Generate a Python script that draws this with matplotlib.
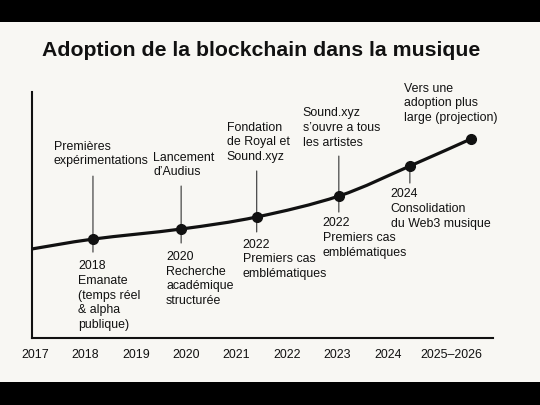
import matplotlib
matplotlib.use("Agg")
import matplotlib.pyplot as plt
from matplotlib.path import Path
from matplotlib.patches import PathPatch, Rectangle
import numpy as np

plt.rcParams['font.family'] = ['Liberation Sans', 'DejaVu Sans']

# ---- data ----
tick_labels = ["2017", "2018", "2019", "2020", "2021", "2022", "2023", "2024", "2025–2026"]
tick_pos = [0, 1, 2, 3, 4, 5, 6, 7, 8.27]

# adoption curve (arbitrary index 0-100), first value is the start at the axis
curve_x = [-0.06, 1.15, 2.90, 4.40, 6.03, 7.44, 8.65]
curve_y = [36.2, 40.2, 44.3, 49.2, 57.7, 69.9, 80.9]
milestone_idx = [1, 2, 3, 4, 5, 6]

labels_above = [
    "Premières\nexpérimentations",
    "Lancement\nd\u2019Audius",
    "Fondation\nde Royal et\nSound.xyz",
    "Sound.xyz\ns\u2019ouvre a tous\nles artistes",
    None,
    "Vers une\nadoption plus\nlarge (projection)",
]
labels_below = [
    "2018\nEmanate\n(temps réel\n& alpha\npublique)",
    "2020\nRecherche\nacadémique\nstructurée",
    "2022\nPremiers cas\nemblématiques",
    "2022\nPremiers cas\nemblématiques",
    "2024\nConsolidation\ndu Web3 musique",
    None,
]
title = "Adoption de la blockchain dans la musique"

# ---- layout (pixel offsets) ----
above_off = [(-39, 85), (-28, 64), (-30, 74.5), (-36, 68), None, (-67, 35.5)]
below_off = [(-15, -56.5), (-15, -50), (-14, -42.5), (-16, -42), (-19, -43), None]
conn_up = [63, 43, 46, 40, 0, 0]
conn_down = [13, 14, 15, 16, 17, 0]

BG = "#f8f7f3"
INK = "#111111"
FS = 8.9
LS = 1.3

fig = plt.figure(figsize=(5.4, 4.05), dpi=100, facecolor=BG)
ax = fig.add_axes([32/540, (405-338)/405, (493-32)/540, (338-92)/405])
ax.set_facecolor(BG)
ax.set_xlim(-0.06, 9.09)
ax.set_ylim(0, 100)
for s in ["top", "right"]:
    ax.spines[s].set_visible(False)
for s in ["left", "bottom"]:
    ax.spines[s].set_color(INK)
    ax.spines[s].set_linewidth(1.5)
ax.set_yticks([])
ax.set_xticks(tick_pos)
ax.set_xticklabels(tick_labels, fontsize=FS, color=INK)
ax.tick_params(axis="x", length=0, pad=8)

# smooth curve through the points (Catmull-Rom -> cubic Bezier)
pts = np.column_stack([curve_x, curve_y])
verts = [tuple(pts[0])]
codes = [Path.MOVETO]
n = len(pts)
for i in range(n - 1):
    p0 = pts[i - 1] if i > 0 else pts[i]
    p1 = pts[i]
    p2 = pts[i + 1]
    p3 = pts[i + 2] if i + 2 < n else pts[i + 1]
    c1 = p1 + (p2 - p0) / 6.0
    c2 = p2 - (p3 - p1) / 6.0
    verts += [tuple(c1), tuple(c2), tuple(p2)]
    codes += [Path.CURVE4] * 3
ax.add_patch(PathPatch(Path(verts, codes), facecolor="none", edgecolor=INK,
                       lw=2.3, capstyle="round", zorder=3))

mx = [curve_x[i] for i in milestone_idx]
my = [curve_y[i] for i in milestone_idx]
ax.plot(mx, my, "o", color=INK, markersize=7, zorder=4)

for k, (x, y) in enumerate(zip(mx, my)):
    if conn_up[k]:
        ax.annotate("", xy=(x, y), xytext=(0, conn_up[k]), textcoords="offset pixels",
                    arrowprops=dict(arrowstyle="-", lw=0.8, color="#333333",
                                    shrinkA=0, shrinkB=0), zorder=2)
    if conn_down[k]:
        ax.annotate("", xy=(x, y), xytext=(0, -conn_down[k]), textcoords="offset pixels",
                    arrowprops=dict(arrowstyle="-", lw=0.8, color="#333333",
                                    shrinkA=0, shrinkB=0), zorder=2)
    if labels_above[k]:
        ax.annotate(labels_above[k], xy=(x, y), xytext=above_off[k],
                    textcoords="offset pixels", ha="left", va="center",
                    fontsize=FS, color=INK, linespacing=LS, annotation_clip=False)
    if labels_below[k]:
        ax.annotate(labels_below[k], xy=(x, y), xytext=below_off[k],
                    textcoords="offset pixels", ha="left", va="center",
                    fontsize=FS, color=INK, linespacing=LS, annotation_clip=False)

fig.text(261/540, 1 - 51/405, title, ha="center", va="center", fontsize=15.3,
         fontweight="bold", color=INK)

# letterbox bars
fig.patches.append(Rectangle((0, 1 - 22/405), 1, 22/405, transform=fig.transFigure,
                             facecolor="black", edgecolor="none", zorder=10))
fig.patches.append(Rectangle((0, 0), 1, 23/405, transform=fig.transFigure,
                             facecolor="black", edgecolor="none", zorder=10))

fig.savefig("out.png", dpi=100, facecolor=BG)
